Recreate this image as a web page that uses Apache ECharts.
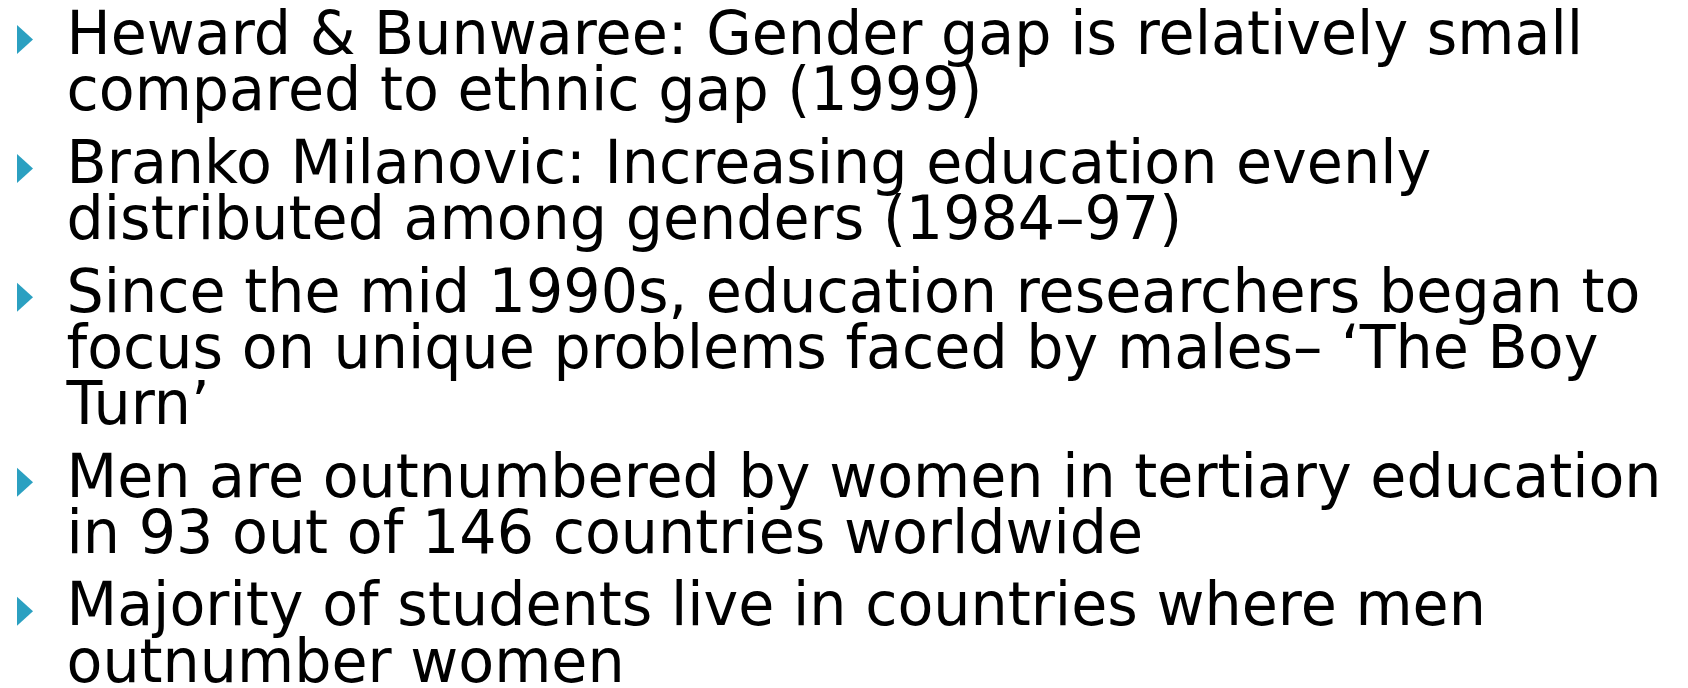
<!DOCTYPE html>
<html>
<head>
<meta charset="utf-8">
<title>Boy Turn</title>
<script src="https://cdn.jsdelivr.net/npm/echarts@6/dist/echarts.min.js"></script>
<style>
  html, body { margin: 0; padding: 0; background: #fff; }
  #main { width: 1688px; height: 688px; }
</style>
</head>
<body>
<div id="main"></div>
<script>
  // bullet text, one array per bullet (wrapped as on the slide)
  var bullet1 = ['Heward & Bunwaree: Gender gap is relatively small', 'compared to ethnic gap (1999)'];
  var bullet2 = ['Branko Milanovic: Increasing education evenly', 'distributed among genders (1984–97)'];
  var bullet3 = ['Since the mid 1990s, education researchers began to', 'focus on unique problems faced by males– ‘The Boy', 'Turn’'];
  var bullet4 = ['Men are outnumbered by women in tertiary education', 'in 93 out of 146 countries worldwide'];
  var bullet5 = ['Majority of students live in countries where men', 'outnumber women'];
  var bullets = [bullet1, bullet2, bullet3, bullet4, bullet5];

  var chart = echarts.init(document.getElementById('main'));

  var fontSize = 60.5;
  var squeeze = 0.97;    // slide text is a little narrower than DejaVu
  var lineStep = 56.1;
  var paraStep = 72.8;
  var textX = 66.5;
  var baseline = 54;
  var elements = [];

  bullets.forEach(function (lines) {
    // teal triangle marker
    elements.push({
      type: 'polygon',
      shape: { points: [[17, baseline - 29], [33, baseline - 14.5], [17, baseline]] },
      style: { fill: '#2ba0c1' }
    });
    lines.forEach(function (line, i) {
      if (i > 0) baseline += lineStep;
      elements.push({
        type: 'text',
        x: textX,
        y: baseline - fontSize * 0.346 + 5,
        scaleX: squeeze,
        style: {
          text: line,
          x: 0,
          y: 0,
          fill: '#000',
          font: fontSize + 'px "DejaVu Sans"',
          align: 'left',
          verticalAlign: 'middle'
        }
      });
    });
    baseline += paraStep;
  });

  chart.setOption({
    backgroundColor: '#fff',
    graphic: { elements: elements }
  });
</script>
</body>
</html>
